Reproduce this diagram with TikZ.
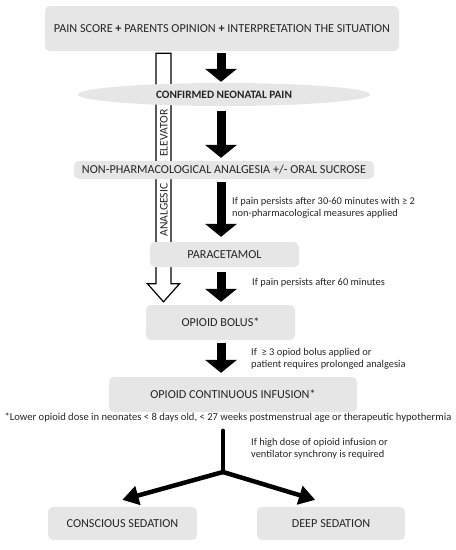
\documentclass[tikz,border=0pt]{standalone}
\usepackage{fontspec}
\setmainfont{Carlito}
\usetikzlibrary{arrows.meta,positioning,shapes.geometric,backgrounds,calc}
\definecolor{boxfill}{HTML}{E6E6E6}
\definecolor{inkc}{HTML}{262626}

\begin{document}
\begin{tikzpicture}[
  x=1pt, y=-1pt,
  font=\fontsize{12.2}{14}\selectfont,
  stage/.style={rectangle, rounded corners=5pt, fill=boxfill, inner sep=0pt,
                align=center, text=inkc},
  oval/.style={ellipse, fill=boxfill, inner sep=0pt, text=inkc,
               font=\fontsize{11.3}{13}\selectfont\bfseries},
  cond/.style={anchor=west, inner sep=0pt, align=left, text=inkc,
               font=\fontsize{10.4}{12.2}\selectfont},
  vlabel/.style={rotate=90, inner sep=0pt, text=inkc,
                 font=\fontsize{11.6}{12}\selectfont},
  blk/.style={draw=black, line width=9pt,
              -{Triangle[width=32pt, length=13pt, line width=0pt]},
              shorten <=3pt, shorten >=3pt},
  fork/.style={draw=black, line width=4.5pt, line cap=round},
  hollow/.style={draw=black, line width=1.2pt, fill=white, line join=miter},
]
\useasboundingbox (0,0) rectangle (456,550);

% ---- main spine ----
\node[stage, minimum width=354pt, minimum height=45pt] (assess) at (222,28.5)
  {PAIN SCORE \textbf{+} PARENTS OPINION \textbf{+} INTERPRETATION THE SITUATION};
\node[oval, minimum width=292pt, minimum height=23pt] (confirmed) at (224,94.5)
  {CONFIRMED NEONATAL PAIN};
\node[stage, minimum width=300pt, minimum height=18pt] (nonpharm) at (224,170)
  {NON-PHARMACOLOGICAL ANALGESIA +/- ORAL SUCROSE};
\node[stage, minimum width=149pt, minimum height=25pt] (para) at (224.5,254.5)
  {PARACETAMOL};
\node[stage, minimum width=149pt, minimum height=35pt] (bolus) at (220.5,322.5)
  {OPIOID BOLUS*};
\node[stage, minimum width=248pt, minimum height=35pt] (infusion) at (233,394.5)
  {OPIOID CONTINUOUS INFUSION*};

% ---- sedation level ----
\node[stage, minimum width=149pt, minimum height=33pt] (conscious) at (122.5,523.5)
  {CONSCIOUS SEDATION};
\node[stage, minimum width=148pt, minimum height=33pt] (deep) at (331,523.5)
  {DEEP SEDATION};

% ---- conditions ----
\node[cond] (c1) at (232,207.5)
  {If pain persists after 30-60 minutes with ≥ 2\\non-pharmacological measures applied};
\node[cond] (c2) at (252,283) {If pain persists after 60 minutes};
\node[cond] (c3) at (251,358.5)
  {If~~≥ 3 opiod bolus applied or\\patient requires prolonged analgesia};
\node[cond] (c4) at (251,449)
  {If high dose of opioid infusion or\\ventilator synchrony is required};
\node[cond, anchor=center, font=\fontsize{10.6}{12}\selectfont] (note) at (228,418)
  {*Lower opioid dose in neonates < 8 days old, < 27 weeks postmenstrual age or therapeutic hypothermia};

% ---- flow arrows ----
\coordinate (axis) at (221,0);
\draw[blk, shorten <=2pt, shorten >=1pt] (assess.south -| axis) -- (confirmed.north -| axis);
\draw[blk, shorten <=5pt] (confirmed.south -| axis) -- (nonpharm.north -| axis);
\draw[blk, shorten >=5pt] (nonpharm.south -| axis) -- (para.north -| axis);
\draw[blk, shorten <=5pt] (para.south -| axis) -- (bolus.north -| axis);
\draw[blk, shorten >=4pt] (bolus.south -| axis) -- (infusion.north -| axis);

% ---- fork to sedation ----
\coordinate (split) at (223,472);
\draw[fork, shorten <=8pt] (note.south -| split) -- (split);
\draw[fork, -{Triangle[width=20pt, length=16pt, line width=0pt]}]
  (split) -- ($(conscious.north)+(0,-7)$);
\draw[fork, -{Triangle[width=20pt, length=16pt, line width=0pt]}]
  (split) -- ($(deep.north)+(-16,-7)$);

% ---- analgesic elevator (hollow arrow behind the boxes) ----
\coordinate (elev) at (163.5,0);
\begin{scope}[on background layer]
  \draw[hollow] let \p1=(assess.south -| elev), \p2=(bolus.north -| elev) in
    (\x1-7.5pt,\y1-2pt) -- (\x1-7.5pt,\y2+21pt) -- (\x1-16pt,\y2+21pt)
    -- (\x1,\y2+3pt) -- (\x1+16pt,\y2+21pt) -- (\x1+7.5pt,\y2+21pt)
    -- (\x1+7.5pt,\y1-2pt) -- cycle;
\end{scope}
\node[vlabel] (elevtxt) at (164,133) {ELEVATOR};
\node[vlabel] (analtxt) at (164,210) {ANALGESIC};
\end{tikzpicture}
\end{document}
